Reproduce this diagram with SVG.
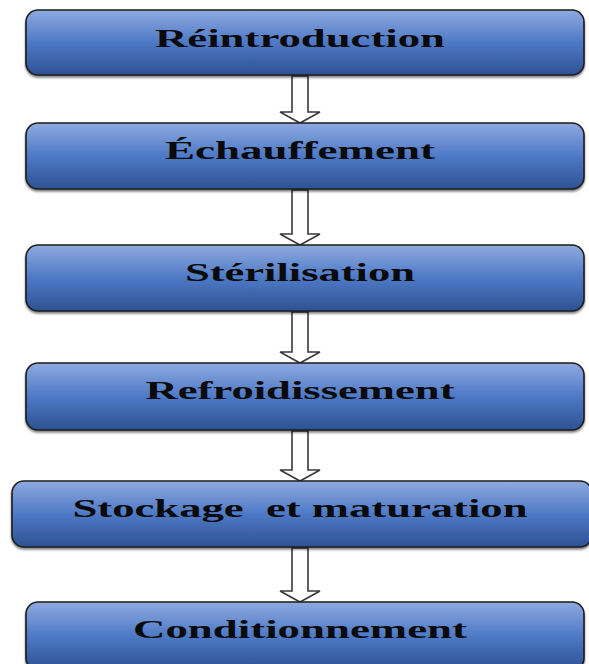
<svg xmlns="http://www.w3.org/2000/svg" width="589" height="664" viewBox="0 0 589 664">
<defs>
<linearGradient id="g" x1="0" y1="0" x2="0" y2="1">
<stop offset="0" stop-color="#8EAADF"/>
<stop offset="0.5" stop-color="#4E79C6"/>
<stop offset="1" stop-color="#2D5293"/>
</linearGradient>
<filter id="sh" x="-5%" y="-10%" width="110%" height="130%">
<feGaussianBlur in="SourceAlpha" stdDeviation="1.2"/>
<feOffset dx="0" dy="1.5" result="b"/>
<feComponentTransfer><feFuncA type="linear" slope="0.5"/></feComponentTransfer>
<feMerge><feMergeNode/><feMergeNode in="SourceGraphic"/></feMerge>
</filter>
</defs>
<style>
.box{fill:url(#g);stroke:#1c1c1c;stroke-width:1.6;filter:url(#sh)}
.lbl{font-family:"Liberation Serif","Times New Roman",serif;font-weight:bold;font-size:26px;fill:#0a0a0a;text-anchor:middle}
.arr{fill:#ffffff;stroke:#3a3a3a;stroke-width:1.6;stroke-linejoin:miter}
</style>
<rect width="589" height="664" fill="#ffffff"/>
<g id="connectors">
<path class="arr" d="M292,76 L308,76 L308,112 L320,112 L300,123 L280,112 L292,112 Z"/>
<path class="arr" d="M292,190 L308,190 L308,234 L320,234 L300,245 L280,234 L292,234 Z"/>
<path class="arr" d="M292,312 L308,312 L308,352 L320,352 L300,363 L280,352 L292,352 Z"/>
<path class="arr" d="M292,431 L308,431 L308,470 L320,470 L300,481 L280,470 L292,470 Z"/>
<path class="arr" d="M292,548 L308,548 L308,591 L320,591 L300,602 L280,591 L292,591 Z"/>
</g>
<g id="n1"><rect class="box" x="26" y="10" width="558" height="65" rx="12"/><text class="lbl" x="300" y="47" textLength="290" lengthAdjust="spacingAndGlyphs">Réintroduction</text></g>
<g id="n2"><rect class="box" x="26" y="123" width="558" height="66" rx="12"/><text class="lbl" x="300" y="159" textLength="270" lengthAdjust="spacingAndGlyphs">Échauffement</text></g>
<g id="n3"><rect class="box" x="26" y="245" width="558" height="66" rx="12"/><text class="lbl" x="300" y="281" textLength="230" lengthAdjust="spacingAndGlyphs">Stérilisation</text></g>
<g id="n4"><rect class="box" x="26" y="363" width="558" height="67" rx="12"/><text class="lbl" x="300" y="399" textLength="309" lengthAdjust="spacingAndGlyphs">Refroidissement</text></g>
<g id="n5"><rect class="box" x="12" y="481" width="580" height="66" rx="12"/><text class="lbl" x="300" y="517" textLength="455" lengthAdjust="spacingAndGlyphs" xml:space="preserve">Stockage  et maturation</text></g>
<g id="n6"><rect class="box" x="26" y="602" width="558" height="68" rx="12"/><text class="lbl" x="300" y="638" textLength="334" lengthAdjust="spacingAndGlyphs">Conditionnement</text></g>
</svg>
